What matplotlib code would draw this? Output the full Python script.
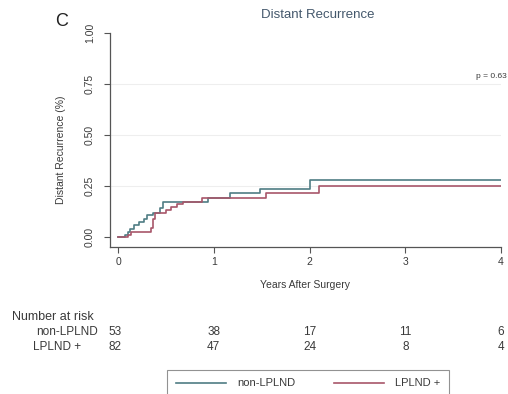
import matplotlib
matplotlib.use("Agg")
import matplotlib.pyplot as plt

plt.rcParams['font.family'] = ['Liberation Sans', 'DejaVu Sans']

# Kaplan-Meier style cumulative incidence steps (years, cumulative proportion)
non_lplnd_t = [0, 0.07, 0.10, 0.13, 0.17, 0.22, 0.27, 0.30, 0.37, 0.44, 0.47, 0.94, 1.17, 1.48, 2.00, 4.0]
non_lplnd_y = [0, 0.010, 0.025, 0.040, 0.060, 0.075, 0.090, 0.110, 0.120, 0.140, 0.173, 0.190, 0.215, 0.235, 0.280, 0.280]
lplnd_t = [0, 0.10, 0.14, 0.34, 0.36, 0.39, 0.50, 0.55, 0.62, 0.68, 0.88, 1.55, 2.10, 4.0]
lplnd_y = [0, 0.012, 0.024, 0.045, 0.090, 0.120, 0.130, 0.145, 0.160, 0.173, 0.190, 0.215, 0.250, 0.250]

risk_times = [0, 1, 2, 3, 4]
risk_non_lplnd = [53, 38, 17, 11, 6]
risk_lplnd = [82, 47, 24, 8, 4]

y_ticks = [0.0, 0.25, 0.5, 0.75, 1.0]
y_tick_labels = ["0.00", "0.25", "0.50", "0.75", "1.00"]

col_non = "#4f7d84"
col_lpl = "#a8566a"
txt = "#3a3a3a"

fig = plt.figure(figsize=(5.08, 3.94), dpi=100)
ax = fig.add_axes([110 / 508, 1 - 247 / 394, (501 - 110) / 508, (247 - 33) / 394])

for yv in [0.25, 0.5, 0.75]:
    ax.axhline(yv, color="#eeeeee", lw=0.8, zorder=0)

ax.step(non_lplnd_t, non_lplnd_y, where="post", color=col_non, lw=1.2, label="non-LPLND")
ax.step(lplnd_t, lplnd_y, where="post", color=col_lpl, lw=1.2, label="LPLND +")

ax.set_xlim(-0.084, 4.0)
ax.set_ylim(-0.049, 1.0)
ax.spines["top"].set_visible(False)
ax.spines["right"].set_visible(False)
for s in ["left", "bottom"]:
    ax.spines[s].set_color("#555555")
    ax.spines[s].set_linewidth(0.9)

ax.set_xticks(risk_times)
ax.set_xticklabels([str(t) for t in risk_times], fontsize=7.5, color=txt)
ax.set_yticks(y_ticks)
ax.set_yticklabels(y_tick_labels, fontsize=7.5, color=txt, rotation=90, va="center")
ax.tick_params(axis="both", direction="out", length=4, width=0.8, colors="#555555", labelcolor=txt)
ax.tick_params(axis="y", pad=7)

ax.set_xlabel("Years After Surgery", fontsize=7.5, color=txt, labelpad=9)
ax.set_ylabel("Distant Recurrence (%)", fontsize=7.5, color=txt)
ax.yaxis.set_label_coords(-(110 - 66) / (501 - 110), (247 - 150) / (247 - 33))

fig.text(318 / 508, 1 - 15 / 394, "Distant Recurrence", fontsize=9.5, color="#44586c",
         ha="center", va="center")
fig.text(62 / 508, 1 - 22 / 394, "C", fontsize=13, color="#222222", ha="center", va="center")
ax.text(3.9, 0.785, "p = 0.63", fontsize=6, color=txt, ha="center", va="center")

# number-at-risk table below the axis
fig.text(12 / 508, 1 - 317 / 394, "Number at risk", fontsize=9, color=txt, ha="left", va="center")
fig.text(98 / 508, 1 - 332 / 394, "non-LPLND", fontsize=8.5, color=txt, ha="right", va="center")
fig.text(57 / 508, 1 - 347 / 394, "LPLND +", fontsize=8.5, color=txt, ha="center", va="center")
for t, a, b in zip(risk_times, risk_non_lplnd, risk_lplnd):
    xt = t if t > 0 else -0.03
    ax.annotate(str(a), xy=(xt, 0), xycoords=("data", "axes fraction"),
                xytext=(0, -(332 - 247)), textcoords="offset pixels",
                ha="center", va="center", fontsize=8.5, color=txt)
    ax.annotate(str(b), xy=(xt, 0), xycoords=("data", "axes fraction"),
                xytext=(0, -(347 - 247)), textcoords="offset pixels",
                ha="center", va="center", fontsize=8.5, color=txt)

leg = fig.legend(loc="upper center", bbox_to_anchor=(308 / 508, 1 - 364 / 394), ncol=2,
                 fontsize=8, frameon=True, fancybox=False, edgecolor="#777777",
                 handlelength=4.5, columnspacing=3.5, borderpad=0.8, handletextpad=1.0)
leg.get_frame().set_linewidth(0.8)
for t in leg.get_texts():
    t.set_color(txt)

fig.savefig("out.png", dpi=100, facecolor="white")
plt.close(fig)
